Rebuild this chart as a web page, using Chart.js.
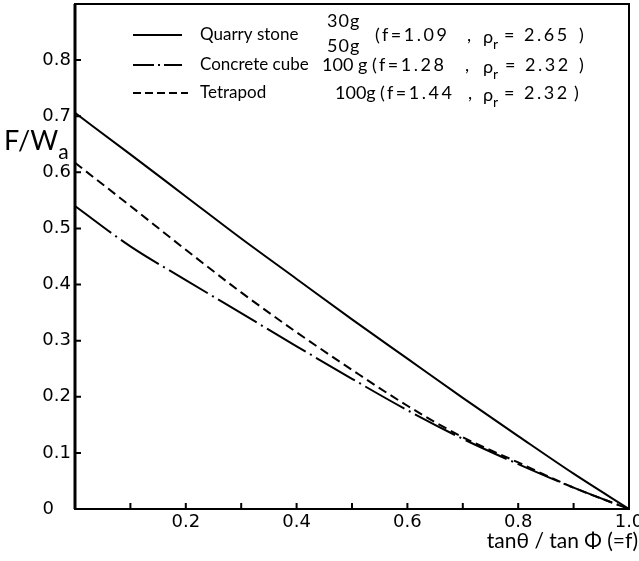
<!DOCTYPE html>
<html>
<head>
<meta charset="utf-8">
<script src="https://cdn.jsdelivr.net/npm/chart.js@4.4.1/dist/chart.umd.min.js"></script>
<style>
  html, body { margin: 0; padding: 0; background: #fff; }
  #wrap { width: 639px; height: 561px; }
</style>
</head>
<body>
<div id="wrap"><canvas id="forceChart" width="639" height="561"></canvas></div>
<script>
// ---- data ----
const fValues = [0, 0.1, 0.2, 0.3, 0.4, 0.5, 0.6, 0.7, 0.8, 0.9, 1.0];
const quarryStone = [0.706, 0.632, 0.557, 0.482, 0.41, 0.338, 0.268, 0.198, 0.13, 0.063, 0];
const concreteCube = [0.540, 0.468, 0.408, 0.349, 0.29, 0.232, 0.176, 0.125, 0.08, 0.038, 0];
const tetrapod = [0.617, 0.54, 0.462, 0.386, 0.315, 0.248, 0.184, 0.128, 0.083, 0.038, 0];

const xTickLabels = ["0.2", "0.4", "0.6", "0.8", "1.0"];
const yTickLabels = ["0", "0.1", "0.2", "0.3", "0.4", "0.5", "0.6", "0.7", "0.8"];

const FONT = "Lato, 'DejaVu Sans', sans-serif";
const TICK_FONT = "'DejaVu Sans', sans-serif";

function toPoints(ys) {
  return fValues.map((x, i) => ({ x: x, y: ys[i] }));
}

// inward tick marks + plot frame + axis titles
const frame = {
  id: "frame",
  afterDraw(chart) {
    const ctx = chart.ctx;
    const a = chart.chartArea;
    const xs = chart.scales.x;
    const ys = chart.scales.y;
    ctx.save();
    ctx.strokeStyle = "#000";
    ctx.lineWidth = 2;
    ctx.strokeRect(a.left, a.top, a.right - a.left, a.bottom - a.top);
    ctx.lineWidth = 3;
    ctx.beginPath();
    ctx.moveTo(a.left, a.top);
    ctx.lineTo(a.left, a.bottom);
    ctx.stroke();
    ctx.lineWidth = 2;
    ctx.beginPath();
    for (let i = 1; i < 10; i++) {
      const px = xs.getPixelForValue(i / 10);
      ctx.moveTo(px, a.bottom);
      ctx.lineTo(px, a.bottom - 6);
    }
    for (let i = 1; i < 9; i++) {
      const py = ys.getPixelForValue(i / 10);
      ctx.moveTo(a.left, py);
      ctx.lineTo(a.left + 6, py);
    }
    ctx.stroke();

    ctx.fillStyle = "#000";
    ctx.textBaseline = "middle";
    ctx.font = "27px " + FONT;
    ctx.textAlign = "left";
    ctx.fillText("F/W", 4, 141);
    const w = ctx.measureText("F/W").width;
    ctx.font = "21px " + FONT;
    ctx.fillText("a", 4 + w, 152);

    ctx.font = "21px " + FONT;
    ctx.textAlign = "right";
    ctx.fillText("tanθ / tan Φ (=f)", 638, 541);
    ctx.restore();
  }
};

// legend rows: sample dash, label, mass, then the bracket pieces with x positions
const legendRows = [
  { y: 35, dash: [], x2: 182, label: "Quarry stone", mass: null,
    pieces: [["(f=1.09", 375], [",", 467], ["= 2.65", 504], [")", 579]] },
  { y: 65, dash: [21, 4, 2, 4], x2: 182, label: "Concrete cube", mass: ["100 g", 322],
    pieces: [["(f=1.28", 372], [",", 465], ["= 2.32", 505], [")", 579]] },
  { y: 93, dash: [8, 4], x2: 188, label: "Tetrapod", mass: ["100g", 335],
    pieces: [["(f=1.44", 380], [",", 468], ["= 2.32", 504], [")", 574]] }
];

const legendBox = {
  id: "legendBox",
  afterDraw(chart) {
    const ctx = chart.ctx;
    ctx.save();
    ctx.fillStyle = "#000";
    ctx.strokeStyle = "#000";
    ctx.lineWidth = 2;
    ctx.textBaseline = "middle";
    ctx.textAlign = "left";
    legendRows.forEach((r) => {
      ctx.setLineDash(r.dash);
      ctx.beginPath();
      ctx.moveTo(133, r.y);
      ctx.lineTo(r.x2, r.y);
      ctx.stroke();
      ctx.setLineDash([]);

      ctx.letterSpacing = "0px";
      ctx.font = "17px " + FONT;
      ctx.fillText(r.label, 200, r.y);
      ctx.font = "18px " + FONT;
      if (r.mass) ctx.fillText(r.mass[0], r.mass[1], r.y);
      ctx.letterSpacing = "2.5px";
      r.pieces.forEach((p) => ctx.fillText(p[0], p[1], r.y));
      ctx.letterSpacing = "0px";
      ctx.fillText("ρ", 483, r.y + 2);
      ctx.font = "14px " + FONT;
      ctx.fillText("r", 493, r.y + 9);
    });
    ctx.font = "18px " + FONT;
    ctx.letterSpacing = "1px";
    ctx.fillText("30g", 327, 21);
    ctx.fillText("50g", 327, 46);
    ctx.restore();
  }
};

new Chart(document.getElementById("forceChart"), {
  type: "line",
  data: {
    datasets: [
      {
        label: "Quarry stone",
        data: toPoints(quarryStone),
        borderColor: "#000",
        borderWidth: 2,
        pointRadius: 0,
        cubicInterpolationMode: "monotone"
      },
      {
        label: "Concrete cube",
        data: toPoints(concreteCube),
        borderColor: "#000",
        borderWidth: 2,
        borderDash: [45, 5, 2, 5],
        pointRadius: 0,
        cubicInterpolationMode: "monotone"
      },
      {
        label: "Tetrapod",
        data: toPoints(tetrapod),
        borderColor: "#000",
        borderWidth: 2,
        borderDash: [9, 5],
        pointRadius: 0,
        cubicInterpolationMode: "monotone"
      }
    ]
  },
  options: {
    responsive: false,
    animation: false,
    layout: { padding: { top: 4, right: 10, left: 0, bottom: 0 } },
    plugins: {
      legend: { display: false },
      tooltip: { enabled: false }
    },
    scales: {
      x: {
        type: "linear",
        min: 0,
        max: 1,
        grid: { display: false, drawTicks: false },
        border: { display: false },
        ticks: {
          stepSize: 0.1,
          padding: 3,
          color: "#000",
          font: { family: TICK_FONT, size: 18 },
          maxRotation: 0,
          autoSkip: false,
          callback: (v) => {
            const s = v.toFixed(1);
            return xTickLabels.includes(s) ? s : "";
          }
        },
        afterFit(scale) {
          scale.height = 52;
          scale.paddingLeft = 0;
          scale.paddingRight = 0;
        }
      },
      y: {
        min: 0,
        max: 0.9,
        grid: { display: false, drawTicks: false },
        border: { display: false },
        ticks: {
          stepSize: 0.1,
          padding: 4,
          color: "#000",
          font: { family: TICK_FONT, size: 18 },
          autoSkip: false,
          callback: (v) => {
            const s = Math.abs(v) < 1e-9 ? "0" : v.toFixed(1);
            if (!yTickLabels.includes(s)) return "";
            return s === "0" ? "0   " : s;
          }
        },
        afterFit(scale) {
          scale.width = 75;
          scale.paddingTop = 0;
          scale.paddingBottom = 0;
        }
      }
    }
  },
  plugins: [frame, legendBox]
});
</script>
</body>
</html>
